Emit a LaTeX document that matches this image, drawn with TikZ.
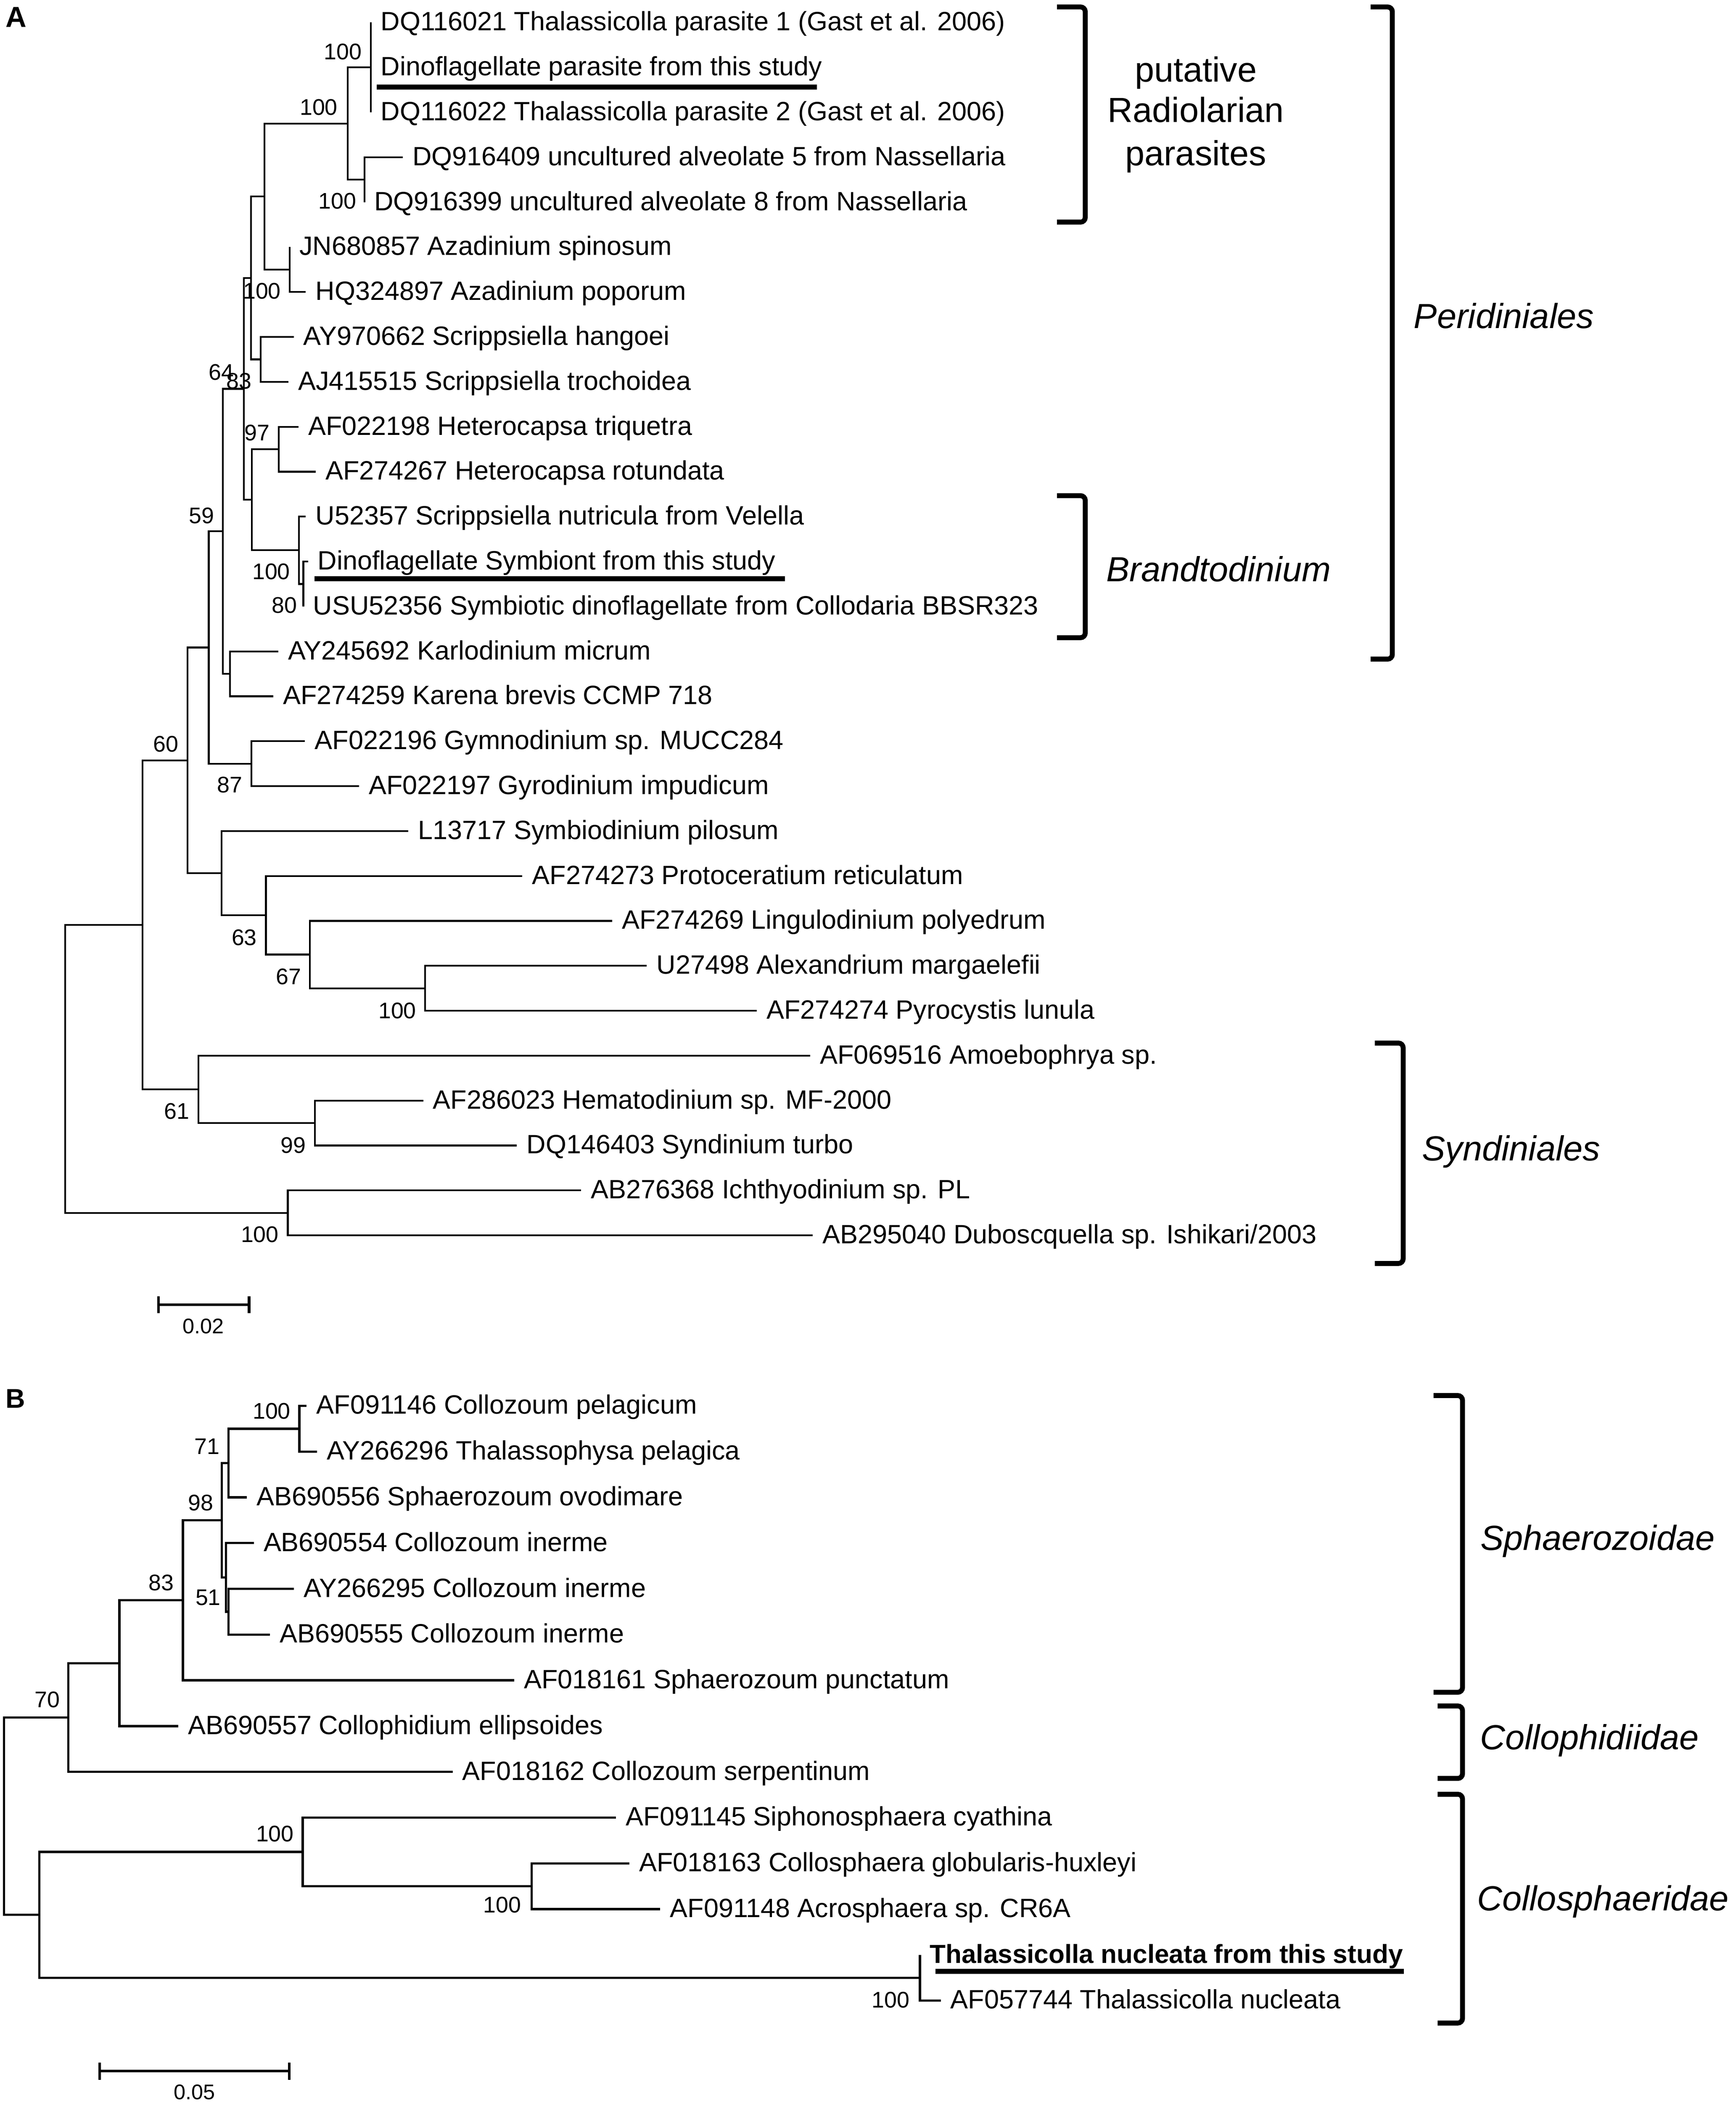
\documentclass[tikz,border=0pt]{standalone}
\usepackage{fontspec}
\setmainfont{Liberation Sans}
\usepackage{tikz}

\tikzset{
  branch/.style={line width=0.75pt},
  branchB/.style={line width=0.95pt},
  taxon/.style={anchor=base west, inner sep=0pt, xshift=0.14cm, yshift=-0.122cm, font=\fontsize{11.25}{13}\selectfont},
  boot/.style={inner sep=0pt, font=\fontsize{9.6}{11}\selectfont},
  grouplabel/.style={anchor=base, inner sep=0pt, font=\fontsize{14.8}{17}\selectfont},
  bracket/.style={line width=2.1pt, rounded corners=2pt},
  uline/.style={line width=2.1pt},
  scalebar/.style={line width=1.1pt},
}

\begin{document}
\begin{tikzpicture}[x=0.02cm, y=-0.02cm]
        \useasboundingbox (0,0) rectangle (1296.1,1569.8);

        % panel A
        \node[anchor=base west, inner sep=0pt, font=\fontsize{12.3}{14}\selectfont\bfseries] (panelA) at (4,20.4) {A};

        \coordinate (a1) at (277,16.8);
        \coordinate (a2) at (277,50.33);
        \coordinate (a3) at (277,83.86);
        \coordinate (a4) at (300.8,117.39);
        \coordinate (a5) at (272.2,150.92);
        \coordinate (a6) at (216.3,184.45);
        \coordinate (a7) at (228.3,217.98);
        \coordinate (a8) at (219.3,251.51);
        \coordinate (a9) at (215.4,285.04);
        \coordinate (a10) at (222.8,318.57);
        \coordinate (a11) at (235.8,352.1);
        \coordinate (a12) at (228.3,385.63);
        \coordinate (a13) at (230,419.16);
        \coordinate (a14) at (226.5,452.69);
        \coordinate (a15) at (207.8,486.22);
        \coordinate (a16) at (204,519.75);
        \coordinate (a17) at (227.7,553.28);
        \coordinate (a18) at (268,586.81);
        \coordinate (a19) at (305,620.34);
        \coordinate (a20) at (390,653.87);
        \coordinate (a21) at (457,687.4);
        \coordinate (a22) at (483,720.93);
        \coordinate (a23) at (565,754.46);
        \coordinate (a24) at (605,787.99);
        \coordinate (a25) at (316,821.52);
        \coordinate (a26) at (386,855.05);
        \coordinate (a27) at (434,888.58);
        \coordinate (a28) at (607,922.11);

        \node[taxon] (la1) at (a1) {DQ116021 Thalassicolla parasite 1 (Gast et al. 2006)};
        \node[taxon] (la2) at (a2) {Dinoflagellate parasite from this study};
        \node[taxon] (la3) at (a3) {DQ116022 Thalassicolla parasite 2 (Gast et al. 2006)};
        \node[taxon] (la4) at (a4) {DQ916409 uncultured alveolate 5 from Nassellaria};
        \node[taxon] (la5) at (a5) {DQ916399 uncultured alveolate 8 from Nassellaria};
        \node[taxon] (la6) at (a6) {JN680857 Azadinium spinosum};
        \node[taxon] (la7) at (a7) {HQ324897 Azadinium poporum};
        \node[taxon] (la8) at (a8) {AY970662 Scrippsiella hangoei};
        \node[taxon] (la9) at (a9) {AJ415515 Scrippsiella trochoidea};
        \node[taxon] (la10) at (a10) {AF022198 Heterocapsa triquetra};
        \node[taxon] (la11) at (a11) {AF274267 Heterocapsa rotundata};
        \node[taxon] (la12) at (a12) {U52357 Scrippsiella nutricula from Velella};
        \node[taxon] (la13) at (a13) {Dinoflagellate Symbiont from this study};
        \node[taxon] (la14) at (a14) {USU52356 Symbiotic dinoflagellate from Collodaria BBSR323};
        \node[taxon] (la15) at (a15) {AY245692 Karlodinium micrum};
        \node[taxon] (la16) at (a16) {AF274259 Karena brevis CCMP 718};
        \node[taxon] (la17) at (a17) {AF022196 Gymnodinium sp. MUCC284};
        \node[taxon] (la18) at (a18) {AF022197 Gyrodinium impudicum};
        \node[taxon] (la19) at (a19) {L13717 Symbiodinium pilosum};
        \node[taxon] (la20) at (a20) {AF274273 Protoceratium reticulatum};
        \node[taxon] (la21) at (a21) {AF274269 Lingulodinium polyedrum};
        \node[taxon] (la22) at (a22) {U27498 Alexandrium margaelefii};
        \node[taxon] (la23) at (a23) {AF274274 Pyrocystis lunula};
        \node[taxon] (la24) at (a24) {AF069516 Amoebophrya sp.};
        \node[taxon] (la25) at (a25) {AF286023 Hematodinium sp. MF-2000};
        \node[taxon] (la26) at (a26) {DQ146403 Syndinium turbo};
        \node[taxon] (la27) at (a27) {AB276368 Ichthyodinium sp. PL};
        \node[taxon] (la28) at (a28) {AB295040 Duboscquella sp. Ishikari/2003};

        \draw[uline] (281.3,65.1) -- (610,65.1);
        \draw[uline] (234.7,432) -- (586,432);

        \coordinate (nTri) at (277,50.33);
        \coordinate (nNas) at (272.2,134.16);
        \coordinate (nPar) at (259.6,92.24);
        \coordinate (nAza) at (216.3,201.22);
        \coordinate (nRad) at (197.5,146.73);
        \coordinate (nScr) at (194.6,268.28);
        \coordinate (nUp) at (187.5,207.5);
        \coordinate (nHet) at (208.1,335.34);
        \coordinate (nBr2) at (226.5,435.93);
        \coordinate (nBr) at (223.2,410.78);
        \coordinate (nHB) at (188,373.06);
        \coordinate (nPer) at (182.1,290.28);
        \coordinate (nKar) at (171.7,502.99);
        \coordinate (n59) at (166.5,396.64);
        \coordinate (n87) at (187.8,570.05);
        \coordinate (n155) at (155.9,483.34);
        \coordinate (nAlex) at (317.3,737.7);
        \coordinate (n67) at (231.4,712.55);
        \coordinate (n63) at (198.6,683.21);
        \coordinate (nGon) at (165.4,651.78);
        \coordinate (n60) at (140.1,567.56);
        \coordinate (n99) at (235.2,838.29);
        \coordinate (n61) at (148.3,813.14);
        \coordinate (nDin) at (106.4,690.35);
        \coordinate (nSyn) at (214.9,905.35);
        \coordinate (rootA) at (48.7,797.85);

        \draw[branch] (nTri) |- (a1) (nTri) |- (a2) (nTri) |- (a3);
        \draw[branch] (nNas) |- (a4) (nNas) |- (a5);
        \draw[branch] (nPar) |- (nTri) (nPar) |- (nNas);
        \draw[branch] (nAza) |- (a6) (nAza) |- (a7);
        \draw[branch] (nRad) |- (nPar) (nRad) |- (nAza);
        \draw[branch] (nScr) |- (a8) (nScr) |- (a9);
        \draw[branch] (nUp) |- (nRad) (nUp) |- (nScr);
        \draw[branch] (nHet) |- (a10) (nHet) |- (a11);
        \draw[branch] (nBr2) |- (a13) (nBr2) |- (a14);
        \draw[branch] (nBr) |- (a12) (nBr) |- (nBr2);
        \draw[branch] (nHB) |- (nHet) (nHB) |- (nBr);
        \draw[branch] (nPer) |- (nUp) (nPer) |- (nHB);
        \draw[branch] (nKar) |- (a15) (nKar) |- (a16);
        \draw[branch] (n59) |- (nPer) (n59) |- (nKar);
        \draw[branch] (n87) |- (a17) (n87) |- (a18);
        \draw[branch] (n155) |- (n59) (n155) |- (n87);
        \draw[branch] (nAlex) |- (a22) (nAlex) |- (a23);
        \draw[branch] (n67) |- (a21) (n67) |- (nAlex);
        \draw[branch] (n63) |- (a20) (n63) |- (n67);
        \draw[branch] (nGon) |- (a19) (nGon) |- (n63);
        \draw[branch] (n60) |- (n155) (n60) |- (nGon);
        \draw[branch] (n99) |- (a25) (n99) |- (a26);
        \draw[branch] (n61) |- (a24) (n61) |- (n99);
        \draw[branch] (nDin) |- (n60) (nDin) |- (n61);
        \draw[branch] (nSyn) |- (a27) (nSyn) |- (a28);
        \draw[branch] (rootA) |- (nDin) (rootA) |- (nSyn);

        \node[boot] (bTri) at (256,38.5) {100};
        \node[boot] (bPar) at (238,80.2) {100};
        \node[boot] (bNas) at (252,150.1) {100};
        \node[boot] (bAza) at (195.6,217.3) {100};
        \node[boot] (bPer) at (165.3,278) {64};
        \node[boot] (bUp) at (178.4,284.3) {83};
        \node[boot] (bHet) at (192,323) {97};
        \node[boot] (b59) at (150.4,384.9) {59};
        \node[boot] (bBr) at (202.5,426.8) {100};
        \node[boot] (bBr2) at (212.4,451.9) {80};
        \node[boot] (b60) at (123.8,555.5) {60};
        \node[boot] (b87) at (171.5,586) {87};
        \node[boot] (b63) at (182.4,699.7) {63};
        \node[boot] (b67) at (215.4,729) {67};
        \node[boot] (bAlex) at (296.7,754.4) {100};
        \node[boot] (b61) at (132.1,829.6) {61};
        \node[boot] (b99) at (219.1,855) {99};
        \node[boot] (bSyn) at (194,921.6) {100};

        \coordinate (sA1) at (118.4,974);
        \coordinate (sA2) at (186,974);
        \draw[scalebar] (sA1) -- (sA2);
        \draw[scalebar] ([yshift=0.125cm]sA1) -- ([yshift=-0.125cm]sA1);
        \draw[scalebar] ([yshift=0.125cm]sA2) -- ([yshift=-0.125cm]sA2);
        \node[boot, font=\fontsize{9}{11}\selectfont] (sAtext) at (151.7,989.8) {0.02};

        \draw[bracket] (789.3,5.2) -- (810.4,5.2) -- (810.4,165.8) -- (789.3,165.8);
        \draw[bracket] (1023.5,5.2) -- (1039.7,5.2) -- (1039.7,492) -- (1023.5,492);
        \draw[bracket] (789.3,370) -- (810.4,370) -- (810.4,476) -- (789.3,476);
        \draw[bracket] (1026.7,778.6) -- (1047.8,778.6) -- (1047.8,943.1) -- (1026.7,943.1);

        \node[grouplabel] (gRad1) at (893,61) {putative};
        \node[grouplabel] (gRad2) at (893,91.3) {Radiolarian};
        \node[grouplabel] (gRad3) at (893,123.6) {parasites};
        \node[grouplabel, font=\fontsize{14.8}{17}\selectfont\itshape] (gPer) at (1123,245) {Peridiniales};
        \node[grouplabel, font=\fontsize{14.8}{17}\selectfont\itshape] (gBra) at (910,434) {Brandtodinium};
        \node[grouplabel, font=\fontsize{14.8}{17}\selectfont\itshape] (gSyn) at (1128.5,866.3) {Syndiniales};

        % panel B
        \node[anchor=base west, inner sep=0pt, font=\fontsize{11.5}{14}\selectfont\bfseries] (panelB) at (4,1051) {B};

        \coordinate (b1) at (229,1049.4);
        \coordinate (b2) at (236.8,1083.55);
        \coordinate (b3) at (184.2,1117.7);
        \coordinate (b4) at (189.5,1151.85);
        \coordinate (b5) at (219.4,1186);
        \coordinate (b6) at (201.6,1220.15);
        \coordinate (b7) at (384,1254.3);
        \coordinate (b8) at (133,1288.45);
        \coordinate (b9) at (338,1322.6);
        \coordinate (b10) at (460,1356.75);
        \coordinate (b11) at (470,1390.9);
        \coordinate (b12) at (493,1425.05);
        \coordinate (b13) at (686.9,1459.2);
        \coordinate (b14) at (702.5,1493.35);

        \node[taxon] (lb1) at (b1) {AF091146 Collozoum pelagicum};
        \node[taxon] (lb2) at (b2) {AY266296 Thalassophysa pelagica};
        \node[taxon] (lb3) at (b3) {AB690556 Sphaerozoum ovodimare};
        \node[taxon] (lb4) at (b4) {AB690554 Collozoum inerme};
        \node[taxon] (lb5) at (b5) {AY266295 Collozoum inerme};
        \node[taxon] (lb6) at (b6) {AB690555 Collozoum inerme};
        \node[taxon] (lb7) at (b7) {AF018161 Sphaerozoum punctatum};
        \node[taxon] (lb8) at (b8) {AB690557 Collophidium ellipsoides};
        \node[taxon] (lb9) at (b9) {AF018162 Collozoum serpentinum};
        \node[taxon] (lb10) at (b10) {AF091145 Siphonosphaera cyathina};
        \node[taxon] (lb11) at (b11) {AF018163 Collosphaera globularis-huxleyi};
        \node[taxon] (lb12) at (b12) {AF091148 Acrosphaera sp. CR6A};
        \node[taxon, font=\fontsize{11.1}{13}\selectfont\bfseries] (lb13) at (b13) {Thalassicolla nucleata from this study};
        \node[taxon] (lb14) at (b14) {AF057744 Thalassicolla nucleata};

        \draw[uline] (698.6,1471.4) -- (1048.4,1471.4);

        \coordinate (nB1) at (223.5,1066.48);
        \coordinate (nB2) at (170.7,1092.09);
        \coordinate (nB3) at (170.7,1203.08);
        \coordinate (nB4) at (168.7,1177.46);
        \coordinate (nB5) at (165.7,1134.78);
        \coordinate (nB6) at (136.6,1194.54);
        \coordinate (nB7) at (89.2,1241.5);
        \coordinate (nB8) at (51,1282.05);
        \coordinate (nB9) at (397,1407.98);
        \coordinate (nB10) at (226,1382.36);
        \coordinate (nB11) at (686.9,1476.28);
        \coordinate (nB12) at (29.4,1429.32);
        \coordinate (rootB) at (3,1355.69);

        \draw[branchB] (nB1) |- (b1) (nB1) |- (b2);
        \draw[branchB] (nB2) |- (nB1) (nB2) |- (b3);
        \draw[branchB] (nB3) |- (b5) (nB3) |- (b6);
        \draw[branchB] (nB4) |- (b4) (nB4) |- (nB3);
        \draw[branchB] (nB5) |- (nB2) (nB5) |- (nB4);
        \draw[branchB] (nB6) |- (nB5) (nB6) |- (b7);
        \draw[branchB] (nB7) |- (nB6) (nB7) |- (b8);
        \draw[branchB] (nB8) |- (nB7) (nB8) |- (b9);
        \draw[branchB] (nB9) |- (b11) (nB9) |- (b12);
        \draw[branchB] (nB10) |- (b10) (nB10) |- (nB9);
        \draw[branchB] (nB11) |- (b13) (nB11) |- (b14);
        \draw[branchB] (nB12) |- (nB10) (nB12) |- (nB11);
        \draw[branchB] (rootB) |- (nB8) (rootB) |- (nB12);

        \node[boot] (bB1) at (202.8,1053.2) {100};
        \node[boot] (bB2) at (154.6,1079.6) {71};
        \node[boot] (bB5) at (150,1121.9) {98};
        \node[boot] (bB6) at (120.5,1181.4) {83};
        \node[boot] (bB4) at (155.4,1192.5) {51};
        \node[boot] (bB8) at (35.3,1268.8) {70};
        \node[boot] (bB10) at (205.3,1368.9) {100};
        \node[boot] (bB9) at (375,1422) {100};
        \node[boot] (bB11) at (665,1493) {100};

        \coordinate (sB1) at (74.5,1546);
        \coordinate (sB2) at (216.1,1546);
        \draw[scalebar] (sB1) -- (sB2);
        \draw[scalebar] ([yshift=0.13cm]sB1) -- ([yshift=-0.13cm]sB1);
        \draw[scalebar] ([yshift=0.13cm]sB2) -- ([yshift=-0.13cm]sB2);
        \node[boot, font=\fontsize{9}{11}\selectfont] (sBtext) at (145.3,1561.6) {0.05};

        \draw[bracket] (1070.5,1041.7) -- (1092.1,1041.7) -- (1092.1,1263.2) -- (1070.5,1263.2);
        \draw[bracket] (1073.5,1273.4) -- (1092.1,1273.4) -- (1092.1,1327.5) -- (1073.5,1327.5);
        \draw[bracket] (1073.5,1339.3) -- (1092.1,1339.3) -- (1092.1,1510.1) -- (1073.5,1510.1);

        \node[grouplabel, font=\fontsize{14.8}{17}\selectfont\itshape] (gSph) at (1193,1157) {Sphaerozoidae};
        \node[grouplabel, font=\fontsize{14.8}{17}\selectfont\itshape] (gCph) at (1187,1306) {Collophidiidae};
        \node[grouplabel, font=\fontsize{14.8}{17}\selectfont\itshape] (gCsp) at (1197,1426) {Collosphaeridae};
\end{tikzpicture}
\end{document}
